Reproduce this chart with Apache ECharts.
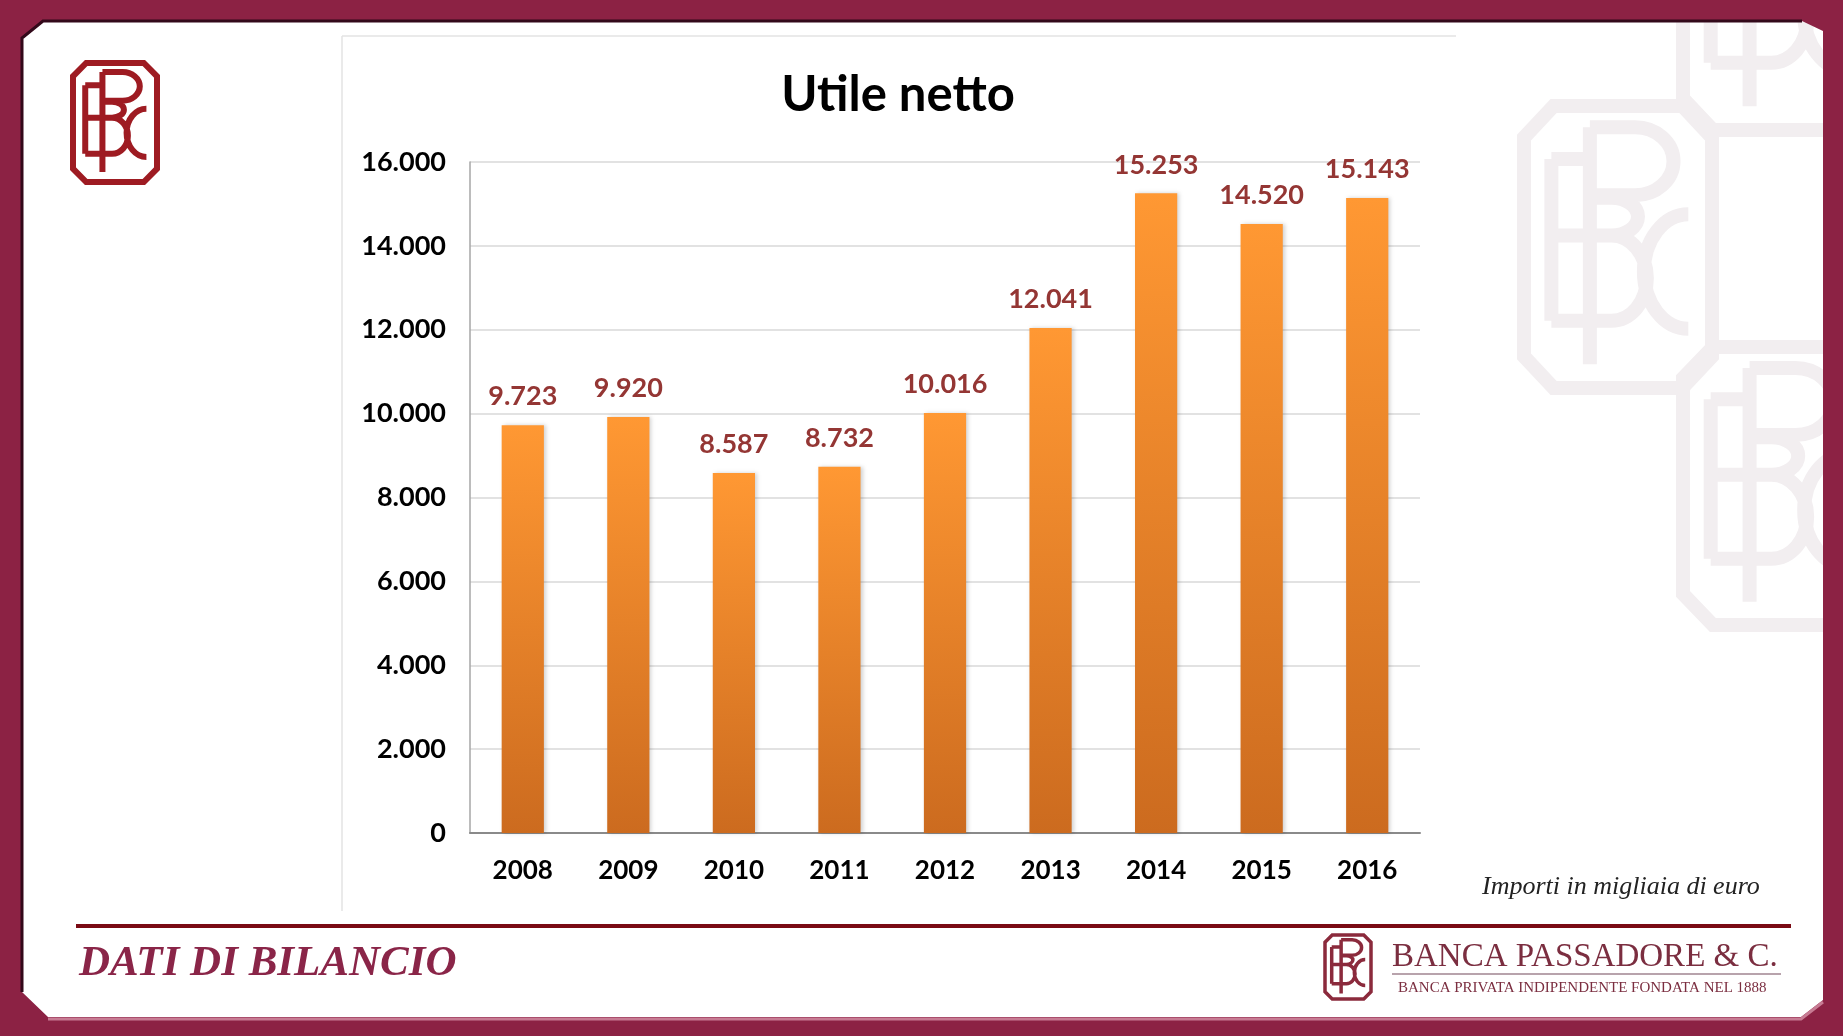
<!DOCTYPE html>
<html>
<head>
<meta charset="utf-8">
<title>Utile netto</title>
<script src="https://cdn.jsdelivr.net/npm/echarts@6.0.0/dist/echarts.min.js"></script>
<style>
  html, body { margin: 0; padding: 0; background: #ffffff; }
  #utile-echarts { width: 1843px; height: 1036px; }
</style>
</head>
<body>
<div id="utile-echarts"></div>
<script>
// dati (importi in migliaia di euro)
var anni = ['2008', '2009', '2010', '2011', '2012', '2013', '2014', '2015', '2016'];
var utileNetto = [9723, 9920, 8587, 8732, 10016, 12041, 15253, 14520, 15143];
var tickY = [0, 2000, 4000, 6000, 8000, 10000, 12000, 14000, 16000];

var formatNumber = function (num) {
  return num.toString().replace(/\B(?=(\d{3})+(?!\d))/g, '.');
};

// mezza ellisse da (cx, cy-ry) a (cx, cy+ry), verso destra (dir=1) o sinistra (dir=-1)
function halfEllipse(ctx, X, Y, cx, cy, rx, ry, dir) {
  var k = 0.5523;
  ctx.bezierCurveTo(X(cx + dir * k * rx), Y(cy - ry), X(cx + dir * rx), Y(cy - k * ry), X(cx + dir * rx), Y(cy));
  ctx.bezierCurveTo(X(cx + dir * rx), Y(cy + k * ry), X(cx + dir * k * rx), Y(cy + ry), X(cx), Y(cy + ry));
}

// monogramma BPC, disegnato in un box 254x357
echarts.graphic.registerShape('bpcLogo', echarts.graphic.extendShape({
  shape: { x: 0, y: 0, width: 254, height: 357 },
  buildPath: function (ctx, s) {
    var X = function (u) { return s.x + u * s.width / 254; };
    var Y = function (v) { return s.y + v * s.height / 357; };
    // ottagono
    ctx.moveTo(X(40), Y(0)); ctx.lineTo(X(214), Y(0)); ctx.lineTo(X(254), Y(40));
    ctx.lineTo(X(254), Y(317)); ctx.lineTo(X(214), Y(357)); ctx.lineTo(X(40), Y(357));
    ctx.lineTo(X(0), Y(317)); ctx.lineTo(X(0), Y(40)); ctx.closePath();
    // P
    ctx.moveTo(X(89), Y(27)); ctx.lineTo(X(89), Y(327));
    ctx.moveTo(X(89), Y(27)); ctx.lineTo(X(150), Y(27));
    halfEllipse(ctx, X, Y, 150, 70, 52, 43, 1);
    ctx.lineTo(X(89), Y(113));
    // B
    ctx.moveTo(X(37), Y(67)); ctx.lineTo(X(37), Y(272));
    ctx.moveTo(X(37), Y(67)); ctx.lineTo(X(89), Y(67));
    ctx.moveTo(X(37), Y(164)); ctx.lineTo(X(89), Y(164));
    ctx.moveTo(X(89), Y(116)); ctx.lineTo(X(118), Y(116));
    halfEllipse(ctx, X, Y, 118, 140, 36, 24, 1);
    ctx.lineTo(X(89), Y(164));
    ctx.moveTo(X(118), Y(164));
    halfEllipse(ctx, X, Y, 118, 218, 48, 54, 1);
    ctx.lineTo(X(37), Y(272));
    // C
    ctx.moveTo(X(222), Y(137));
    halfEllipse(ctx, X, Y, 222, 209.5, 60, 72.5, -1);
  }
}));

// cornice: rettangolo esterno meno l'area bianca (verso opposto => buco)
var bordoInterno = [[22, 38], [22, 992], [48, 1017], [1801, 1017], [1823, 1000], [1823, 31], [1802, 21], [43, 21]];
echarts.graphic.registerShape('cornice', echarts.graphic.extendShape({
  shape: { w: 1843, h: 1036 },
  buildPath: function (ctx, s) {
    ctx.moveTo(0, 0); ctx.lineTo(s.w, 0); ctx.lineTo(s.w, s.h); ctx.lineTo(0, s.h); ctx.closePath();
    ctx.moveTo(bordoInterno[0][0], bordoInterno[0][1]);
    for (var i = 1; i < bordoInterno.length; i++) ctx.lineTo(bordoInterno[i][0], bordoInterno[i][1]);
    ctx.closePath();
  }
}));

function logo(x, y, w, h, color, lw) {
  return {
    type: 'bpcLogo',
    silent: true,
    shape: { x: x, y: y, width: w, height: h },
    style: { fill: null, stroke: color, lineWidth: lw, lineJoin: 'miter' }
  };
}

var chartDom = document.getElementById('utile-echarts');
var myChart = echarts.init(chartDom);
var option;

option = {
  backgroundColor: '#ffffff',
  animation: false,
  title: {
    text: 'Utile netto',
    left: 898,
    top: 71,
    textAlign: 'center',
    padding: 0,
    textStyle: { fontFamily: 'Lato', fontWeight: 'bold', fontSize: 49, color: '#000000' }
  },
  grid: { left: 470, right: 423, top: 162, bottom: 203 },
  xAxis: {
    type: 'category',
    data: anni,
    axisTick: { show: false },
    axisLine: { lineStyle: { color: '#8a8a8a', width: 2 } },
    axisLabel: {
      margin: 25,
      fontFamily: 'Lato', fontWeight: 'bold', fontSize: 26, color: '#000000'
    }
  },
  yAxis: {
    type: 'value',
    min: tickY[0],
    max: tickY[tickY.length - 1],
    interval: tickY[1] - tickY[0],
    axisLine: { show: true, lineStyle: { color: '#a6a6a6', width: 1.5 } },
    axisTick: { show: false },
    splitLine: { lineStyle: { color: '#d9d9d9', width: 1.5 } },
    axisLabel: {
      margin: 24,
      fontFamily: 'Lato', fontWeight: 'bold', fontSize: 27, color: '#000000',
      formatter: function (v) { return formatNumber(v); }
    }
  },
  series: [
    {
      name: 'Utile netto',
      type: 'bar',
      data: utileNetto,
      barWidth: '40%',
      itemStyle: {
        color: new echarts.graphic.LinearGradient(0, 0, 0, 1, [
          { offset: 0, color: '#ff9833' },
          { offset: 1, color: '#cc6b1f' }
        ]),
        shadowColor: 'rgba(0,0,0,0.18)',
        shadowBlur: 4,
        shadowOffsetX: 2
      },
      label: {
        show: true,
        position: 'top',
        distance: 15,
        fontFamily: 'Lato', fontWeight: 'bold', fontSize: 27, color: '#943634',
        formatter: function (p) { return formatNumber(p.value); }
      }
    }
  ],
  graphic: [
    // bordo del pannello del grafico
    { type: 'line', silent: true, shape: { x1: 342, y1: 36, x2: 342, y2: 911 }, style: { stroke: '#e3e3e3', lineWidth: 1.5 } },
    { type: 'line', silent: true, shape: { x1: 342, y1: 36, x2: 1456, y2: 36 }, style: { stroke: '#e3e3e3', lineWidth: 1.5 } },
    // filigrana
    logo(1524, 106, 188, 282, '#f2eef0', 14),
    logo(1683, 347, 190, 278, '#f2eef0', 14),
    logo(1683, -152, 190, 282, '#f2eef0', 14),
    // cornice
    { type: 'cornice', silent: true, shape: { w: 1843, h: 1036 }, style: { fill: '#8c2244' } },
    { type: 'polyline', silent: true, shape: { points: [[22, 992], [22, 38], [43, 21], [1802, 21]] }, style: { stroke: '#33091a', lineWidth: 3, fill: null } },
    { type: 'polyline', silent: true, shape: { points: [[48, 1019], [1801, 1019], [1823, 1002]] }, style: { stroke: '#c77b93', lineWidth: 3, fill: null } },
    // logo in alto a sinistra
    logo(73, 63, 84, 119, '#9e1b22', 6),
    // linea separatrice
    { type: 'line', silent: true, shape: { x1: 76, y1: 926, x2: 1791, y2: 926 }, style: { stroke: '#7a0a14', lineWidth: 4 } },
    {
      type: 'text', silent: true,
      style: { text: 'DATI DI BILANCIO', x: 79, y: 964, fill: '#8a2548', fontFamily: 'Liberation Serif', fontStyle: 'italic', fontWeight: 'bold', fontSize: 43, textVerticalAlign: 'middle' }
    },
    {
      type: 'text', silent: true,
      style: { text: 'Importi in migliaia di euro', x: 1482, y: 887, fill: '#222222', fontFamily: 'Liberation Serif', fontStyle: 'italic', fontSize: 26, textVerticalAlign: 'middle' }
    },
    // marchio in basso a destra
    logo(1325, 935, 46, 64, '#8b2a3c', 3.5),
    {
      type: 'text', silent: true,
      style: { text: 'BANCA PASSADORE & C.', x: 1392, y: 957, fill: '#7b2e40', fontFamily: 'Liberation Serif', fontSize: 33, textVerticalAlign: 'middle' }
    },
    { type: 'line', silent: true, shape: { x1: 1392, y1: 974, x2: 1781, y2: 974 }, style: { stroke: '#a08590', lineWidth: 1.5 } },
    {
      type: 'text', silent: true,
      style: { text: 'BANCA PRIVATA INDIPENDENTE FONDATA NEL 1888', x: 1398, y: 988, fill: '#7b2e40', fontFamily: 'Liberation Serif', fontSize: 15, textVerticalAlign: 'middle' }
    }
  ]
};

option && myChart.setOption(option);

window.addEventListener('resize', function () {
  myChart.resize();
});
</script>
</body>
</html>
